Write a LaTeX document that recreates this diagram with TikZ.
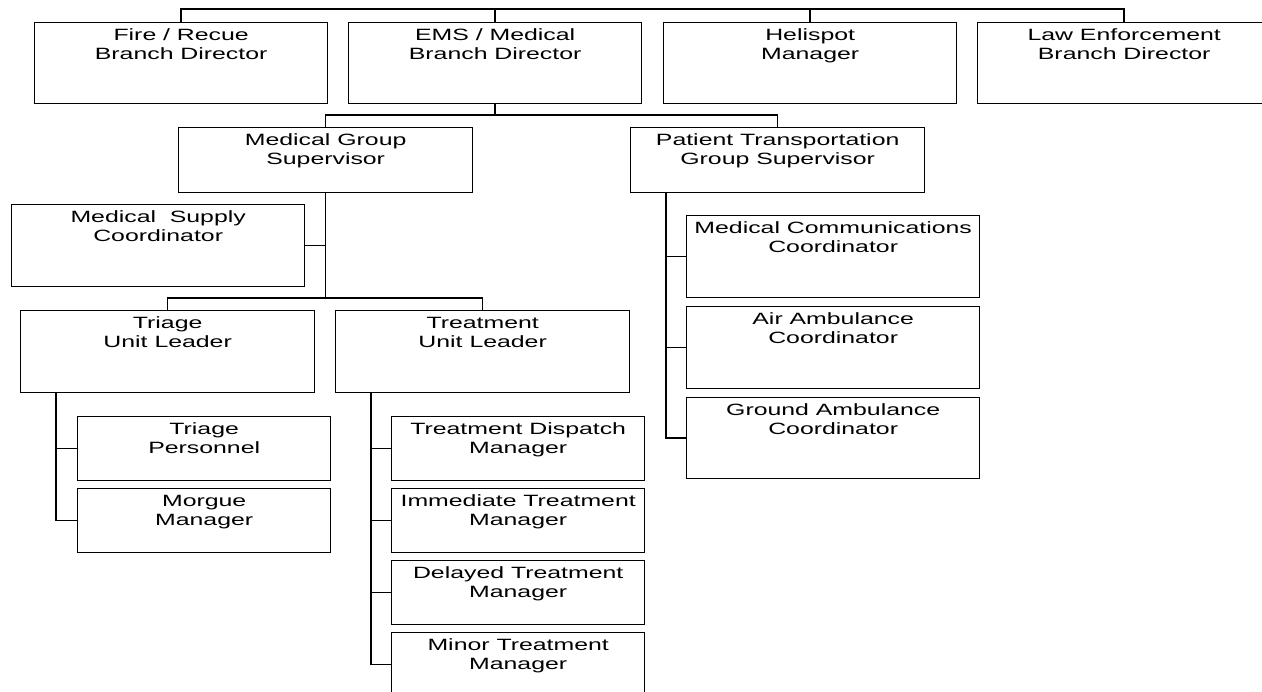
\documentclass[tikz,border=0pt]{standalone}
\usepackage{fontspec}
\setmainfont{Liberation Sans}[FakeStretch=1.52]
\usepackage{tikz}

\tikzset{
  unit/.style={draw, line width=0.8pt, anchor=north west, minimum width=5.86cm, minimum height=1.64cm},
  group/.style={unit, minimum width=5.88cm, minimum height=1.30cm},
  small/.style={unit, minimum width=5.06cm, minimum height=1.28cm},
  title/.style={anchor=north, align=center, inner sep=3.8pt, font=\fontsize{9.3}{10.8}\selectfont},
  link/.style={line width=0.8pt}
}

\begin{document}
\begin{tikzpicture}[x=0.02cm, y=-0.02cm]
\useasboundingbox (0,0) rectangle (1262,692);

\node[unit, minimum height=1.62cm, label={[title]north:Fire / Recue\\Branch Director}] (fire) at (34,22) {};
\node[unit, minimum height=1.62cm, label={[title]north:EMS / Medical\\Branch Director}] (ems) at (348,22) {};
\node[unit, minimum height=1.62cm, label={[title]north:Helispot\\Manager}] (heli) at (663,22) {};
\node[unit, minimum height=1.62cm, label={[title]north:Law Enforcement\\Branch Director}] (law) at (977,22) {};

\node[group, label={[title]north:Medical Group\\Supervisor}] (medgrp) at (178,127) {};
\node[group, label={[title]north:Patient Transportation\\Group Supervisor}] (ptgrp) at (630,127) {};

\node[unit, label={[title]north:Medical\ \ Supply\\Coordinator}] (supply) at (11,204) {};
\node[unit, minimum width=5.88cm, label={[title]north:Triage\\Unit Leader}] (triage) at (20,310) {};
\node[unit, minimum width=5.88cm, label={[title]north:Treatment\\Unit Leader}] (treat) at (335,310) {};

\node[small, label={[title]north:Triage\\Personnel}] (tpers) at (77,416) {};
\node[small, label={[title]north:Morgue\\Manager}] (morgue) at (77,488) {};

\node[small, label={[title]north:Treatment Dispatch\\Manager}] (tdisp) at (391,416) {};
\node[small, label={[title]north:Immediate Treatment\\Manager}] (timm) at (391,488) {};
\node[small, label={[title]north:Delayed Treatment\\Manager}] (tdel) at (391,560) {};
\node[small, label={[title]north:Minor Treatment\\Manager}] (tmin) at (391,632) {};

\node[unit, label={[title]north:Medical Communications\\Coordinator}] (comms) at (686,215) {};
\node[unit, label={[title]north:Air Ambulance\\Coordinator}] (air) at (686,306) {};
\node[unit, minimum height=1.62cm, label={[title]north:Ground Ambulance\\Coordinator}] (ground) at (686,397) {};

\coordinate (topbus) at (0,9);
\coordinate (emsbus) at (0,115);
\coordinate (mgbus) at (0,298);
\coordinate (trtrunk) at ([xshift=0.72cm]triage.south west);
\coordinate (tttrunk) at ([xshift=0.72cm]treat.south west);
\coordinate (pttrunk) at ([xshift=0.72cm]ptgrp.south west);

\draw[link] (fire.north) |- (topbus -| law.north) -- (law.north);
\draw[link] (ems.north) -- (ems.north |- topbus);
\draw[link] (heli.north) -- (heli.north |- topbus);

\draw[link] (medgrp.north) |- (emsbus -| ptgrp.north) -- (ptgrp.north);
\draw[link] (ems.south) -- (ems.south |- emsbus);

\draw[link] (medgrp.south) -- (medgrp.south |- mgbus);
\draw[link] (supply.east) -- (supply.east -| medgrp.south);
\draw[link] (triage.north) |- (mgbus -| treat.north) -- (treat.north);

\draw[link] (trtrunk) |- (morgue.west);
\draw[link] (tpers.west) -- (tpers.west -| trtrunk);

\draw[link] (tttrunk) |- (tmin.west);
\draw[link] (tdisp.west) -- (tdisp.west -| tttrunk);
\draw[link] (timm.west) -- (timm.west -| tttrunk);
\draw[link] (tdel.west) -- (tdel.west -| tttrunk);

\draw[link] (pttrunk) |- (ground.west);
\draw[link] (comms.west) -- (comms.west -| pttrunk);
\draw[link] (air.west) -- (air.west -| pttrunk);

\end{tikzpicture}
\end{document}
